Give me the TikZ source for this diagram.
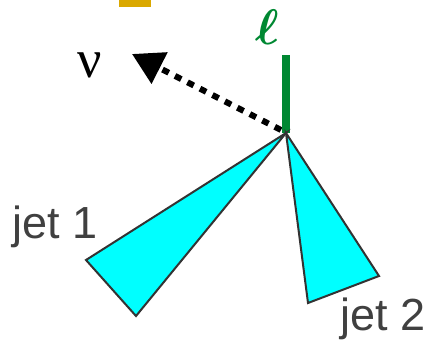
\documentclass[tikz,border=0pt]{standalone}
\usepackage{bm}
\usepackage{fontspec}
\setmainfont{Liberation Sans}
\newfontfamily\serifgr{Liberation Serif}
\usetikzlibrary{arrows.meta}
\definecolor{lepgreen}{RGB}{0,136,50}
\definecolor{bargold}{RGB}{218,168,0}
\definecolor{jetcyan}{RGB}{0,255,255}
\definecolor{edgegray}{RGB}{51,51,51}
\definecolor{textgray}{RGB}{64,64,64}
\tikzset{
  jetcone/.style={fill=jetcyan, draw=edgegray, line width=2pt, line join=miter},
  jetlabel/.style={anchor=base west, inner sep=0pt, text=textgray, font=\fontsize{45}{45}\selectfont},
  nuarrow/.style={line width=6pt, dash pattern=on 7pt off 7pt, -{Triangle[length=31pt,width=34pt]}},
  leptonline/.style={draw=lepgreen, line width=8pt}
}
\begin{document}
\begin{tikzpicture}[x=1pt,y=-1pt]
\useasboundingbox (0,0) rectangle (431,342);
\fill[bargold] (119,0) rectangle (151,7);
\coordinate (v) at (286,133);
\coordinate (ltop) at (286,55);
\coordinate (nustart) at (281,130);
\coordinate (nutip) at (132,54);
\coordinate (j1a) at (86,260);
\coordinate (j1b) at (136,316);
\coordinate (j2a) at (308,303);
\coordinate (j2b) at (379,276);
\draw[nuarrow] (nustart) -- (nutip);
\draw[leptonline] (v) -- (ltop);
\draw[jetcone] (v) -- (j1a) -- (j1b) -- cycle;
\draw[jetcone] (v) -- (j2a) -- (j2b) -- cycle;
\node[anchor=base, inner sep=0pt, font=\serifgr\fontsize{54}{54}\selectfont] (nu) at (90,78) {ν};
\node[anchor=base, inner sep=0pt, text=lepgreen, scale=5] (ell) at (267,45) {$\bm{\ell}$};
\node[jetlabel] (jet1) at (12,238) {jet 1};
\node[jetlabel] (jet2) at (340,330) {jet 2};
\end{tikzpicture}
\end{document}
